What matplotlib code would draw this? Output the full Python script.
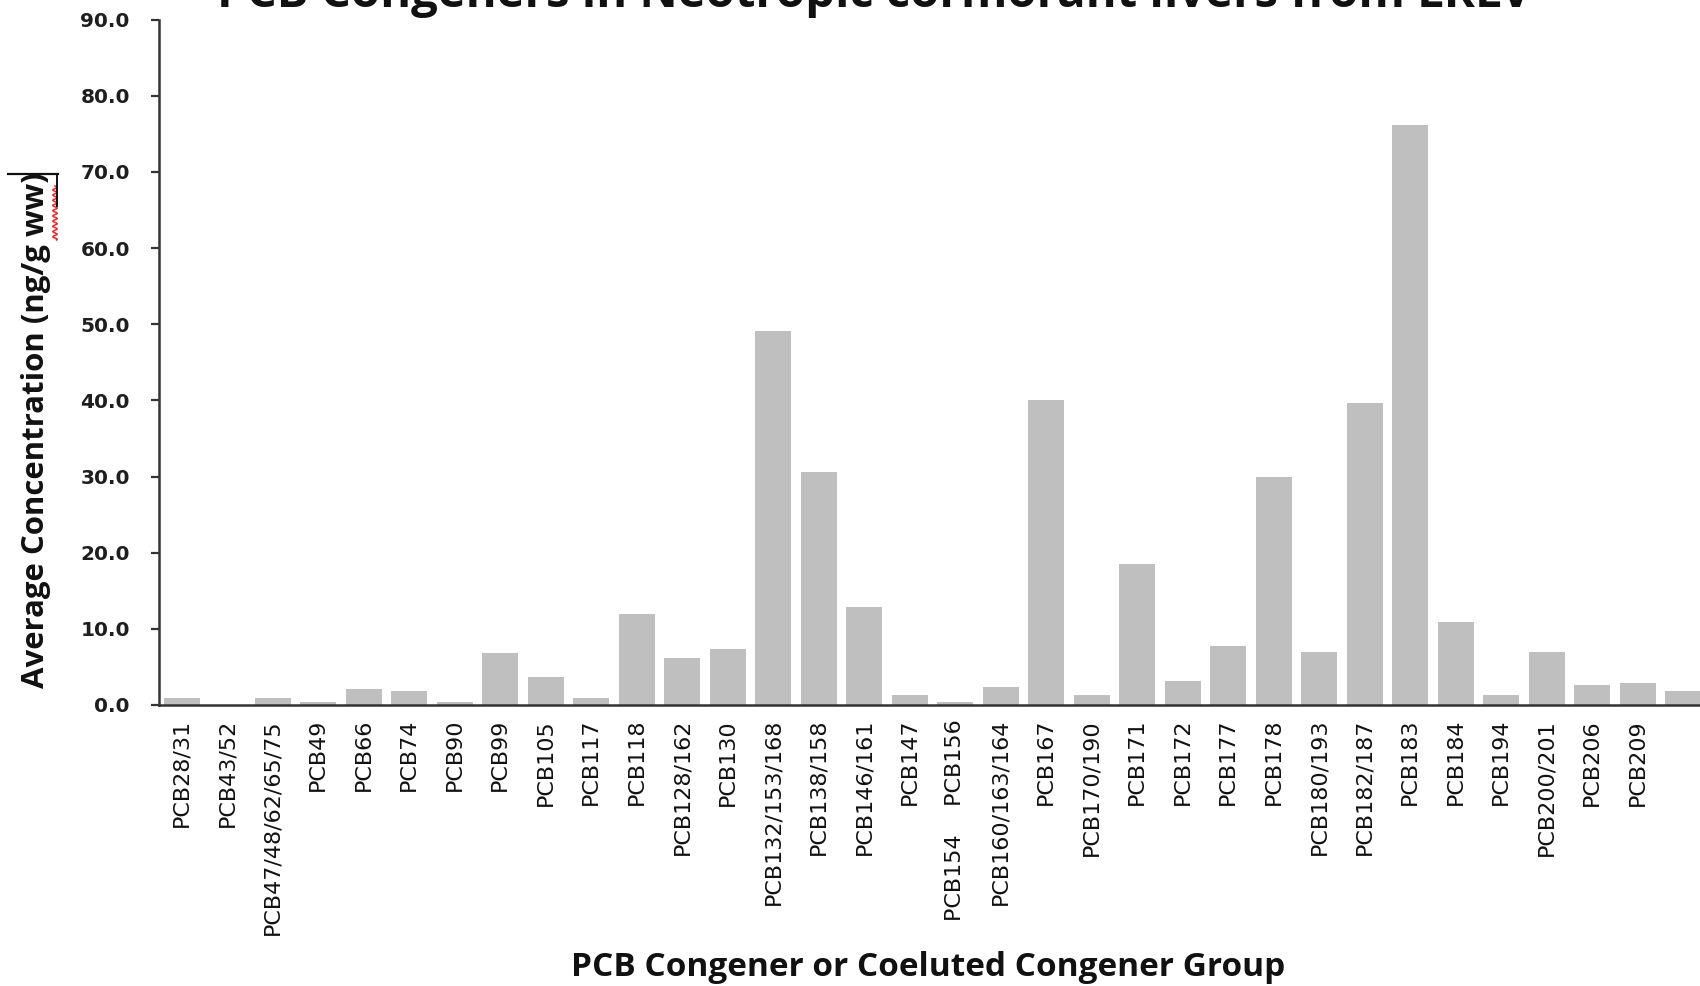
import numpy as np
import matplotlib
matplotlib.use("Agg")
import matplotlib.pyplot as plt
from matplotlib.lines import Line2D

# Congener groups and their mean liver concentrations (ng/g wet weight)
congeners = [
    "PCB28/31", "PCB43/52", "PCB47/48/62/65/75", "PCB49", "PCB66", "PCB74",
    "PCB90", "PCB99", "PCB105", "PCB117", "PCB118", "PCB128/162", "PCB130",
    "PCB132/153/168", "PCB138/158", "PCB146/161", "PCB147",
    "PCB154    PCB156", "PCB160/163/164", "PCB167", "PCB170/190", "PCB171",
    "PCB172", "PCB177", "PCB178", "PCB180/193", "PCB182/187", "PCB183",
    "PCB184", "PCB194", "PCB200/201", "PCB206", "PCB209", "",
]
concentration = [
    0.9, 0.0, 0.9, 0.35, 2.1, 1.9,
    0.35, 6.8, 3.7, 0.9, 11.9, 6.2, 7.3,
    49.1, 30.6, 12.9, 1.35,
    0.35, 2.4, 40.0, 1.35, 18.5,
    3.2, 7.8, 29.9, 7.0, 39.7, 76.2,
    10.9, 1.35, 7.0, 2.6, 2.9, 1.9,
]
y_ticks = [0, 10, 20, 30, 40, 50, 60, 70, 80, 90]

title_text = "PCB Congeners in Neotropic cormorant livers from LRLV"
x_title = "PCB Congener or Coeluted Congener Group"
y_title = "Average Concentration (ng/g ww)"

W, H = 1700, 986
fig = plt.figure(figsize=(W / 100, H / 100), dpi=100)
fig.patch.set_facecolor("white")

left_px, right_px = 159, 1706
top_px, bottom_px = 19.5, 705
ax = fig.add_axes([left_px / W, 1 - bottom_px / H,
                   (right_px - left_px) / W, (bottom_px - top_px) / H])

x = np.arange(len(congeners))
ax.bar(x, concentration, width=0.79, color="#BFBFBF", edgecolor="none", zorder=2)

ax.set_xlim(-0.5, len(congeners) - 0.5)
ax.set_ylim(0, 90)
ax.set_yticks(y_ticks)
ax.set_yticklabels([f"{v:.1f}" for v in y_ticks], fontfamily="DejaVu Sans",
                   fontweight="bold", fontsize=14.5, color="#1e1e1e")
ax.set_xticks(x)
ax.set_xticklabels(congeners, rotation=90, fontfamily="DejaVu Sans",
                   fontsize=16, color="#111111", va="top", ha="center")

ax.tick_params(axis="y", direction="out", length=6, width=1.6, color="#333333", pad=15)
ax.tick_params(axis="x", length=0, pad=10)

for side in ("top", "right"):
    ax.spines[side].set_visible(False)
for side in ("left", "bottom"):
    ax.spines[side].set_color("#333333")
    ax.spines[side].set_linewidth(1.8)
    ax.spines[side].set_zorder(3)

# Axis titles
fig.text(928 / W, 1 - 968 / H, x_title, fontfamily="Open Sans", fontweight="bold",
         fontsize=24, ha="center", va="center", color="#111111")
fig.text(36 / W, 1 - 430 / H, y_title, fontfamily="Open Sans", fontweight="bold",
         fontsize=22.4, ha="center", va="center", rotation=90, color="#111111")

# Chart title, running off the top edge
fig.text(874 / W, 1 - 7 / H, title_text, fontfamily="Open Sans", fontweight="bold",
         fontsize=34, ha="center", va="baseline", color="#111111")

# Spell-check squiggle beside "ww" and the text-box cursor marks
yy = np.linspace(186, 240, 300)
xx = 55.0 + 2.2 * np.sin((yy - 186) / 5.2 * 2 * np.pi)
fig.add_artist(Line2D(xx / W, 1 - yy / H, color="#E8262B", lw=1.1,
                      transform=fig.transFigure))
fig.add_artist(Line2D(np.array([8, 58]) / W, 1 - np.array([174, 174]) / H,
                      color="#111111", lw=1.6, transform=fig.transFigure))
fig.add_artist(Line2D(np.array([57, 57]) / W, 1 - np.array([174, 206]) / H,
                      color="#111111", lw=1.4, transform=fig.transFigure))

fig.savefig("out.png", dpi=100, facecolor="white")
